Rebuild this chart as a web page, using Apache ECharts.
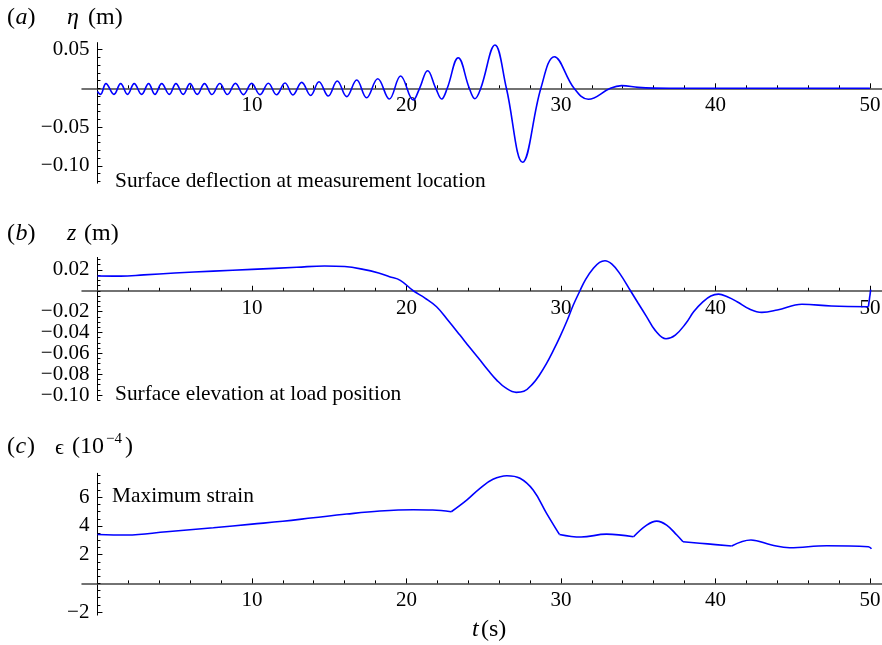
<!DOCTYPE html>
<html>
<head>
<meta charset="utf-8">
<script src="https://cdn.jsdelivr.net/npm/echarts@6/dist/echarts.min.js"></script>
<style>
  html, body { margin: 0; padding: 0; background: #fff; }
  #chart { width: 882px; height: 645px; }
</style>
</head>
<body>
<div id="chart"></div>
<script>
// ---- time axis (s) ----
const timeMajor = [10, 20, 30, 40, 50];
const timeMinor = [2, 4, 6, 8, 12, 14, 16, 18, 22, 24, 26, 28, 32, 34, 36, 38, 42, 44, 46, 48];

// ---- (a) surface deflection eta (m) at the measurement location: [t, eta] ----
const etaPoints = [
  [0.00, -0.0040], [0.20, -0.0078], [0.55, 0.0060], [1.07, -0.0078], [1.50, 0.0060],
  [1.95, -0.0078], [2.38, 0.0060], [2.86, -0.0078], [3.31, 0.0060], [3.72, -0.0078],
  [4.16, 0.0060], [4.65, -0.0078], [5.08, 0.0060], [5.55, -0.0079], [5.99, 0.0060],
  [6.46, -0.0079], [6.93, 0.0061], [7.41, -0.0080], [7.92, 0.0062], [8.41, -0.0080],
  [8.93, 0.0063], [9.45, -0.0081], [9.98, 0.0064], [10.52, -0.0082], [11.06, 0.0065],
  [11.59, -0.0084], [12.14, 0.0068], [12.65, -0.0086], [13.22, 0.0077], [13.80, -0.0093],
  [14.34, 0.0085], [14.94, -0.0099], [15.52, 0.0094], [16.13, -0.0108], [16.78, 0.0107],
  [17.42, -0.0121], [18.14, 0.0124], [18.89, -0.0138], [19.62, 0.0159], [20.44, -0.0151],
  [20.85, 0.0], [21.37, 0.0227], [21.90, 0.0], [22.28, -0.0138], [22.64, 0.0],
  [23.35, 0.0395], [24.07, 0.0], [24.43, -0.0134], [24.81, 0.0], [25.73, 0.0559],
  [26.47, 0.0], [27.52, -0.0955], [28.70, 0.0], [29.57, 0.0408], [30.85, 0.0],
  [31.77, -0.0142], [33.20, 0.0], [33.93, 0.0034], [35.00, 0.0012], [36.00, 0.0002],
  [37.00, 0.0], [50.00, 0.0]
];
const etaLabels = [-0.10, -0.05, 0.05];
const etaMinorStep = 0.01, etaMinorFrom = -0.12, etaMinorTo = 0.05;

// ---- (b) surface elevation z (m) at the load position: [t, z] ----
const zPoints = [
  [0.0, 0.0141], [1.5, 0.0140], [3.0, 0.0152], [5.0, 0.0170], [7.5, 0.0188],
  [10.0, 0.0205], [12.9, 0.0225], [14.7, 0.0238], [16.0, 0.0232], [17.2, 0.0205],
  [18.2, 0.0170], [18.9, 0.0135], [19.6, 0.0100], [20.44, 0.0], [21.2, -0.0070],
  [21.95, -0.0153], [22.7, -0.0285], [23.46, -0.0425], [24.1, -0.0545], [24.76, -0.0665],
  [25.3, -0.0765], [25.84, -0.0857], [26.4, -0.0930], [27.1, -0.0975], [27.6, -0.0965],
  [28.2, -0.0889], [28.6, -0.0810], [29.07, -0.0697], [29.5, -0.0575], [29.94, -0.0440],
  [30.4, -0.0285], [30.8, -0.0137], [31.23, 0.0], [31.6, 0.0110], [32.1, 0.0215],
  [32.5, 0.0272], [32.85, 0.0288], [33.3, 0.0255], [33.8, 0.0167], [34.5, 0.0],
  [35.0, -0.0120], [35.55, -0.0250], [36.1, -0.0380], [36.8, -0.0460], [37.4, -0.0425],
  [38.1, -0.0310], [38.6, -0.0200], [39.2, -0.0105], [39.7, -0.0050], [40.2, -0.0032],
  [40.8, -0.0060], [41.4, -0.0105], [42.2, -0.0175], [43.0, -0.0207], [44.0, -0.0185],
  [45.6, -0.0130], [47.5, -0.0146], [49.9, -0.0153]
];
const zTail = [[49.9, -0.0153], [50.0, -0.0150], [50.05, 0.0010]];
const zLabels = [-0.10, -0.08, -0.06, -0.04, -0.02, 0.02];
const zMinorStep = 0.005, zMinorFrom = -0.105, zMinorTo = 0.03;

// ---- (c) maximum strain (1e-4), piecewise-smooth segments between kinks: [t, strain] ----
const strainSeg1 = [[0, 3.41], [1.9, 3.37], [4.48, 3.60], [7.5, 3.88], [10, 4.13], [12.0, 4.33],
  [13.97, 4.57], [16.13, 4.83], [18.28, 5.04], [20.44, 5.13], [21.7, 5.11], [22.9, 4.99]];
const strainSeg2 = [[22.9, 4.99], [23.9, 5.80], [24.76, 6.62], [25.6, 7.25], [26.5, 7.50],
  [27.35, 7.32], [28.2, 6.50], [29.07, 4.88], [29.9, 3.41]];
const strainSeg3 = [[29.9, 3.41], [31.3, 3.23], [32.95, 3.43], [34.7, 3.25]];
const strainSeg4 = [[34.7, 3.25], [35.55, 4.06], [36.2, 4.34], [36.84, 4.06], [37.5, 3.37], [37.9, 2.90]];
const strainSeg5 = [[37.9, 2.90], [39.5, 2.75], [41.05, 2.60]];
const strainSeg6 = [[41.05, 2.60], [42.3, 3.02], [43.64, 2.67], [44.8, 2.48], [47.2, 2.62],
  [49.9, 2.55], [50.1, 2.41]];
const strainLabels = [-2, 2, 4, 6];
const strainMinorStep = 0.5, strainMinorFrom = -2, strainMinorTo = 7.5;

// ---- drawing ----
const SERIF = '"Liberation Serif", "Times New Roman", "DejaVu Serif", serif';
const BLUE = '#0000ff';
const TICK_FONT = 21;

function steps(from, to, step) {
  const out = [];
  const n = Math.round((to - from) / step);
  for (let k = 0; k <= n; k++) out.push(+(from + k * step).toFixed(6));
  return out;
}
const minusFmt = (digits) => (v) => (digits == null ? String(v) : v.toFixed(digits)).replace('-', '\u2212');

const X_MIN = -1, X_MAX = 50.78;
const GRID_LEFT = 82, GRID_W = 800;
// the value axis crosses the time axis at t = 0
const yAxisShift = -(0 - X_MIN) / (X_MAX - X_MIN) * GRID_W;

const panels = [
  { top: 42.6, height: 140.6, min: -0.1225, max: 0.059, labels: etaLabels,
    minor: steps(etaMinorFrom, etaMinorTo, etaMinorStep), fmt: minusFmt(2) },
  { top: 257.4, height: 142.8, min: -0.105, max: 0.032, labels: zLabels,
    minor: steps(zMinorFrom, zMinorTo, zMinorStep), fmt: minusFmt(2) },
  { top: 473.3, height: 141.8, min: -2.21, max: 7.67, labels: strainLabels,
    minor: steps(strainMinorFrom, strainMinorTo, strainMinorStep), fmt: minusFmt(null) }
];

const grid = [], xAxis = [], yAxis = [];
panels.forEach((p, i) => {
  grid.push({ left: GRID_LEFT, width: GRID_W, top: p.top, height: p.height, containLabel: false, outerBoundsMode: 'none' });
  // the time axis sits on the zero line of the value axis
  const xShift = -(0 - p.min) / (p.max - p.min) * p.height;
  xAxis.push({
    gridIndex: i, type: 'value', min: X_MIN, max: X_MAX, position: 'bottom', offset: xShift,
    axisLine: { show: true, onZero: false, lineStyle: { color: '#444', width: 1.5 } },
    axisTick: { show: true, inside: true, length: 5, customValues: timeMajor, lineStyle: { color: '#000', width: 1 } },
    axisLabel: { show: true, customValues: timeMajor, margin: 7, fontSize: TICK_FONT, fontFamily: SERIF, color: '#000' },
    splitLine: { show: false }
  });
  xAxis.push({
    gridIndex: i, type: 'value', min: X_MIN, max: X_MAX, position: 'bottom', offset: xShift,
    axisLine: { show: true, onZero: false, lineStyle: { opacity: 0 } },
    axisTick: { show: true, inside: true, length: 3, customValues: timeMinor, lineStyle: { color: '#000', width: 1 } },
    axisLabel: { show: false },
    splitLine: { show: false }
  });
  yAxis.push({
    gridIndex: i, type: 'value', min: p.min, max: p.max, position: 'left', offset: yAxisShift,
    axisLine: { show: true, onZero: false, lineStyle: { color: '#000', width: 1 } },
    axisTick: { show: true, inside: true, length: 5, customValues: p.labels, lineStyle: { color: '#000', width: 1 } },
    axisLabel: { show: true, customValues: p.labels, margin: 8, formatter: p.fmt,
      fontSize: TICK_FONT, fontFamily: SERIF, color: '#000' },
    splitLine: { show: false }
  });
  yAxis.push({
    gridIndex: i, type: 'value', min: p.min, max: p.max, position: 'left', offset: yAxisShift,
    axisLine: { show: true, onZero: false, lineStyle: { opacity: 0 } },
    axisTick: { show: true, inside: true, length: 3, customValues: p.minor, lineStyle: { color: '#000', width: 1 } },
    axisLabel: { show: false },
    splitLine: { show: false }
  });
});

function curve(gridIdx, data, smooth) {
  return {
    type: 'line', xAxisIndex: gridIdx * 2, yAxisIndex: gridIdx * 2, data: data,
    smooth: smooth, showSymbol: false, symbol: 'none',
    lineStyle: { color: BLUE, width: 1.6 }, itemStyle: { color: BLUE },
    silent: true, z: 5
  };
}

const series = [
  curve(0, etaPoints, 0.4),
  curve(1, zPoints, 0.4),
  curve(1, zTail, false),
  curve(2, strainSeg1, 0.4),
  curve(2, strainSeg2, 0.4),
  curve(2, strainSeg3, 0.4),
  curve(2, strainSeg4, 0.4),
  curve(2, strainSeg5, 0.4),
  curve(2, strainSeg6, 0.4)
];

const LBL = 24;
const NOTE = 21.4;
function text(x, y, str, style) {
  return { type: 'text', x: x, y: y, silent: true,
    style: Object.assign({ text: str, verticalAlign: 'middle', align: 'left',
      fontSize: LBL, fontFamily: SERIF, fill: '#000' }, style || {}) };
}
const ital = { fontStyle: 'italic' };

const graphic = [
  // panel letters
  text(7, 17.5, '('), text(15.5, 17.5, 'a', ital), text(27.5, 17.5, ')'),
  text(7, 234, '('), text(15.5, 234, 'b', ital), text(27.5, 234, ')'),
  text(7, 447, '('), text(15.5, 447, 'c', ital), text(27, 447, ')'),
  // quantity labels
  text(67, 17.5, '\u03b7', ital), text(88, 17.5, '(m)'),
  text(67, 234, 'z', ital), text(84, 234, '(m)'),
  text(55, 448, '\u03f5', { fontSize: 22 }), text(72, 447, '(10'),
  text(106, 439, '\u22124', { fontSize: 15 }), text(125, 447, ')'),
  // annotations
  text(115, 181, 'Surface deflection at measurement location', { fontSize: NOTE }),
  text(115, 394, 'Surface elevation at load position', { fontSize: NOTE }),
  text(112, 496, 'Maximum strain', { fontSize: NOTE }),
  // time axis title
  text(472, 630, 't', ital), text(481, 630, '(s)')
];

const chart = echarts.init(document.getElementById('chart'));
chart.setOption({
  animation: false,
  backgroundColor: '#fff',
  grid: grid, xAxis: xAxis, yAxis: yAxis, series: series, graphic: graphic
});
</script>
</body>
</html>
